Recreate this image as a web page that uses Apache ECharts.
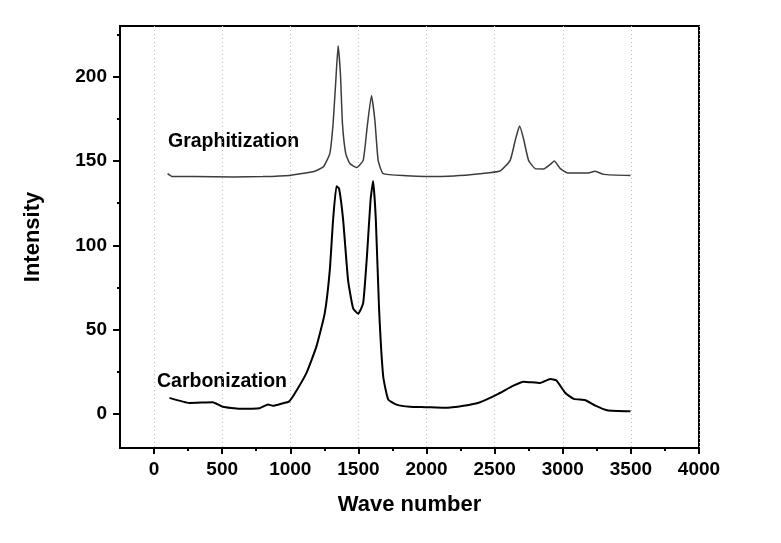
<!DOCTYPE html>
<html>
<head>
<meta charset="utf-8">
<script src="https://cdn.jsdelivr.net/npm/echarts@6/dist/echarts.min.js"></script>
<style>
html,body{margin:0;padding:0;background:#fff;}
#chart{width:781px;height:543px;}
</style>
</head>
<body>
<div id="chart"></div>
<script>
// Graphitization spectrum (wave number, intensity)
const gWave = [99, 132, 300, 583, 800, 995, 1100, 1174, 1241, 1290, 1314, 1334, 1351, 1368, 1383, 1407, 1437, 1486, 1535, 1564, 1596, 1621, 1645, 1682, 1854, 1991, 2200, 2393, 2540, 2614, 2651, 2683, 2712, 2749, 2798, 2859, 2908, 2938, 2982, 3036, 3178, 3239, 3300, 3497];
const gInt  = [142.5, 140.9, 140.8, 140.5, 140.8, 141.5, 142.8, 143.8, 146.4, 154.4, 172, 197.6, 218.3, 201.6, 172, 154.4, 148.5, 146.1, 150.4, 170, 188.8, 174, 150.4, 142.5, 141.3, 140.9, 141.2, 142.5, 144.1, 150.4, 162.2, 170.7, 163.2, 150.4, 145.5, 145.3, 148, 150, 145.5, 142.9, 142.9, 143.9, 142.1, 141.4];

// Carbonization spectrum (wave number, intensity)
const cWave = [113, 260, 431, 505, 628, 775, 837, 873, 946, 990, 1020, 1118, 1192, 1253, 1290, 1314, 1339, 1358, 1388, 1424, 1461, 1498, 1535, 1564, 1589, 1608, 1628, 1652, 1682, 1719, 1780, 1878, 1991, 2131, 2273, 2393, 2516, 2638, 2712, 2835, 2908, 2952, 3019, 3080, 3166, 3239, 3325, 3497];
const cInt  = [9.7, 6.7, 7.1, 4.4, 3.2, 3.6, 5.8, 5.0, 6.5, 7.5, 10.6, 24.4, 40.2, 59.9, 85.4, 115, 135, 133.7, 115, 79.5, 62.8, 59.5, 65.8, 95.3, 126.8, 138.2, 115, 61.8, 22.4, 8.7, 5.7, 4.4, 4.2, 3.8, 5.0, 7.1, 11.6, 16.9, 19.3, 18.5, 20.9, 20.1, 12.6, 9.1, 8.3, 5.1, 2.4, 1.8];

// Axis ticks
const xMajor = [0, 500, 1000, 1500, 2000, 2500, 3000, 3500, 4000];
const xMinor = [250, 750, 1250, 1750, 2250, 2750, 3250, 3750];
const yMajor = [0, 50, 100, 150, 200];
const yMinor = [25, 75, 125, 175, 225];

const seriesLabels = ['Graphitization', 'Carbonization'];

const gData = gWave.map((w, i) => [w, gInt[i]]);
const cData = cWave.map((w, i) => [w, cInt[i]]);

const FONT = '"Liberation Sans", Arial, sans-serif';
const chart = echarts.init(document.getElementById('chart'), null, {renderer: 'canvas'});

const lblStyle = {color: '#000', fontFamily: FONT, fontWeight: 'bold', fontSize: 19};

chart.setOption({
  animation: false,
  backgroundColor: '#fff',
  grid: {left: 120, right: 82, top: 26, bottom: 95, show: true, borderColor: '#000', borderWidth: 2, backgroundColor: 'transparent'},
  xAxis: [
    {
      type: 'value', min: -250, max: 4000, position: 'bottom',
      name: 'Wave number', nameLocation: 'middle', nameGap: 46,
      nameTextStyle: {color: '#000', fontFamily: FONT, fontWeight: 'bold', fontSize: 22},
      axisLine: {show: true, onZero: false, lineStyle: {color: '#000', width: 2}},
      axisTick: {show: true, inside: false, length: 6, customValues: xMajor, lineStyle: {color: '#000', width: 2}},
      axisLabel: Object.assign({customValues: xMajor, margin: 12, formatter: v => String(v)}, lblStyle),
      splitLine: {show: true, lineStyle: {color: '#b8b8b8', type: [1, 3], width: 1}},
      minorTick: {show: false}
    },
    {
      type: 'value', min: -250, max: 4000, position: 'bottom',
      axisLine: {show: false, onZero: false},
      axisTick: {show: true, inside: false, length: 3, customValues: xMinor, lineStyle: {color: '#000', width: 2}},
      axisLabel: {show: false},
      splitLine: {show: false}
    }
  ],
  yAxis: [
    {
      type: 'value', min: -20, max: 230, position: 'left',
      name: 'Intensity', nameLocation: 'middle', nameGap: 76, nameRotate: 90,
      nameTextStyle: {color: '#000', fontFamily: FONT, fontWeight: 'bold', fontSize: 22},
      axisLine: {show: true, onZero: false, lineStyle: {color: '#000', width: 2}},
      axisTick: {show: true, inside: false, length: 7, customValues: yMajor, lineStyle: {color: '#000', width: 2}},
      axisLabel: Object.assign({customValues: yMajor, margin: 13, formatter: v => String(v)}, lblStyle),
      splitLine: {show: false}
    },
    {
      type: 'value', min: -20, max: 230, position: 'left',
      axisLine: {show: false, onZero: false},
      axisTick: {show: true, inside: false, length: 3, customValues: yMinor, lineStyle: {color: '#000', width: 2}},
      axisLabel: {show: false},
      splitLine: {show: false}
    }
  ],
  series: [
    {
      name: seriesLabels[0], type: 'line', data: gData, xAxisIndex: 0, yAxisIndex: 0,
      showSymbol: false, symbol: 'none', smooth: 0.15,
      lineStyle: {color: '#3c3c3c', width: 1.5}
    },
    {
      name: seriesLabels[1], type: 'line', data: cData, xAxisIndex: 0, yAxisIndex: 0,
      showSymbol: false, symbol: 'none', smooth: 0.15,
      lineStyle: {color: '#000', width: 2}
    }
  ],
  graphic: [
    {type: 'text', left: 168, top: 132, style: {text: seriesLabels[0], fill: '#000', font: 'bold 19.5px ' + FONT}},
    {type: 'text', left: 157, top: 372, style: {text: seriesLabels[1], fill: '#000', font: 'bold 19.5px ' + FONT}}
  ]
});
</script>
</body>
</html>
